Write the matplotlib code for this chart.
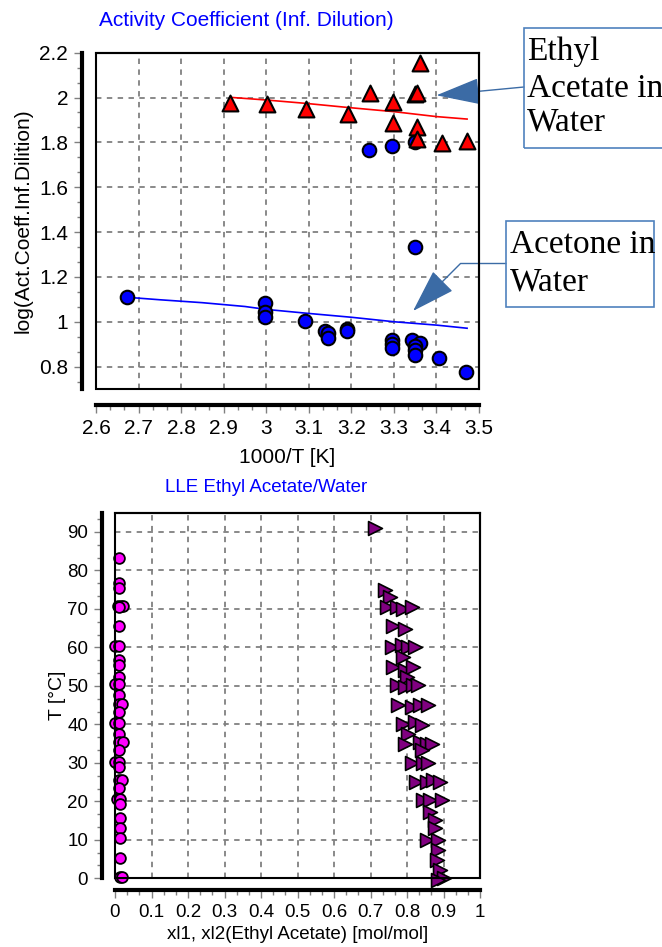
import numpy as np
import matplotlib
matplotlib.use("Agg")
import matplotlib.pyplot as plt
from matplotlib.ticker import MultipleLocator, AutoMinorLocator, FuncFormatter
from matplotlib.patches import Rectangle

plt.rcParams['font.family'] = ['Liberation Sans', 'DejaVu Sans']

# ---- top chart: activity coefficient at infinite dilution ----
acetone_x = [2.674, 2.998, 2.998, 2.998, 3.090, 3.139, 3.144, 3.144, 3.189, 3.190,
             3.295, 3.295, 3.295, 3.342, 3.361, 3.350, 3.350, 3.350, 3.350, 3.407,
             3.469, 3.241, 3.295, 3.350]
acetone_y = [1.109, 1.082, 1.045, 1.023, 1.005, 0.960, 0.948, 0.929, 0.969, 0.960,
             0.919, 0.899, 0.881, 0.919, 0.907, 0.892, 0.874, 0.852, 1.335, 0.840,
             0.777, 1.766, 1.784, 1.803]
ethyl_x = [2.915, 3.002, 3.093, 3.193, 3.244, 3.298, 3.298, 3.350, 3.354, 3.361,
           3.354, 3.354, 3.412, 3.472]
ethyl_y = [1.977, 1.970, 1.950, 1.928, 2.022, 1.978, 1.885, 2.016, 2.022, 2.152,
           1.867, 1.813, 1.799, 1.808]

acetone_fit_x = [2.674, 2.75, 2.85, 2.95, 3.0, 3.1, 3.2, 3.3, 3.4, 3.472]
acetone_fit_y = [1.109, 1.098, 1.085, 1.068, 1.055, 1.037, 1.020, 1.000, 0.985, 0.971]
ethyl_fit_x = [2.915, 3.0, 3.093, 3.19, 3.3, 3.4, 3.472]
ethyl_fit_y = [2.001, 1.989, 1.974, 1.956, 1.937, 1.915, 1.904]

# ---- bottom chart: LLE ethyl acetate / water ----
water_x = [0.011, 0.011, 0.011, 0.007, 0.016, 0.023, 0.011, 0.011, 0.000, 0.011,
           0.011, 0.011, 0.011, 0.000, 0.011, 0.011, 0.011, 0.020, 0.011, 0.000,
           0.011, 0.011, 0.011, 0.023, 0.011, 0.000, 0.011, 0.011, 0.011, 0.018,
           0.011, 0.005, 0.014, 0.014, 0.014, 0.014, 0.014, 0.014, 0.014, 0.020]
water_t = [83.1, 76.8, 75.5, 70.7, 70.7, 70.7, 70.4, 65.5, 60.3, 60.3,
           56.7, 55.4, 52.4, 50.4, 50.4, 47.6, 45.4, 45.3, 43.3, 40.4,
           40.4, 37.6, 35.5, 35.5, 33.3, 30.3, 30.3, 29.0, 25.5, 25.5,
           23.4, 20.6, 20.6, 19.3, 15.6, 13.2, 10.4, 5.4, 0.4, 0.3]
organic_x = [0.712, 0.740, 0.753, 0.744, 0.772, 0.790, 0.813, 0.763, 0.795, 0.758,
             0.785, 0.804, 0.822, 0.790, 0.763, 0.795, 0.817, 0.799, 0.772, 0.795,
             0.817, 0.831, 0.776, 0.813, 0.836, 0.858, 0.790, 0.822, 0.840, 0.804,
             0.795, 0.836, 0.854, 0.868, 0.840, 0.813, 0.845, 0.858, 0.826, 0.854,
             0.872, 0.890, 0.845, 0.863, 0.895, 0.863, 0.877, 0.877, 0.854, 0.886,
             0.886, 0.881, 0.890, 0.900, 0.886]
organic_t = [90.9, 75.0, 73.1, 70.5, 70.5, 70.1, 70.5, 65.5, 64.9, 60.1,
             60.6, 60.1, 60.1, 57.5, 55.0, 54.1, 55.0, 52.4, 50.2, 49.8,
             50.2, 50.2, 45.0, 44.6, 45.0, 45.0, 40.2, 40.7, 39.8, 37.6,
             35.0, 35.5, 35.0, 35.0, 33.3, 29.9, 29.9, 29.9, 25.1, 25.1,
             25.5, 25.1, 20.3, 20.3, 20.3, 17.3, 15.1, 13.0, 10.0, 10.0,
             7.4, 4.8, 2.2, 0.0, -0.4]

W, H = 662, 947
fig = plt.figure(figsize=(W / 100, H / 100), dpi=100)


def px_box(l, t, r, b):
    return [l / W, 1 - b / H, (r - l) / W, (b - t) / H]


def style_axes(ax, left_out, bottom_out, fs):
    for side in ['top', 'right']:
        ax.spines[side].set_linewidth(1.5)
    ax.spines['left'].set_position(('outward', left_out))
    ax.spines['bottom'].set_position(('outward', bottom_out))
    ax.spines['left'].set_linewidth(3)
    ax.spines['bottom'].set_linewidth(3)
    # inner frame edges
    ax.add_patch(Rectangle((0, 0), 1, 1, transform=ax.transAxes, fill=False,
                           lw=1.5, ec='black', clip_on=False, zorder=5))
    ax.xaxis.set_minor_locator(AutoMinorLocator(3))
    ax.yaxis.set_minor_locator(AutoMinorLocator(3))
    ax.tick_params(which='major', direction='out', length=6, width=1,
                   color='#808080', labelsize=fs, pad=4)
    ax.tick_params(which='minor', direction='out', length=3.5, width=1,
                   color='#808080')
    fmt = FuncFormatter(lambda v, p: '%g' % round(v, 6))
    ax.xaxis.set_major_formatter(fmt)
    ax.yaxis.set_major_formatter(fmt)
    ax.grid(True, which='major', color='#808080', ls=(0, (3, 3)), lw=1.3)
    ax.set_axisbelow(True)


# top chart
ax1 = fig.add_axes(px_box(96, 52.7, 479, 389))
ax1.plot(acetone_fit_x, acetone_fit_y, color='#0000FF', lw=1.2, zorder=3)
ax1.plot(ethyl_fit_x, ethyl_fit_y, color='#FF0000', lw=1.2, zorder=3)
ax1.scatter(acetone_x, acetone_y, s=95, c='#0000FF', edgecolors='black', linewidths=1.5,
            zorder=4, clip_on=False)
ax1.scatter(ethyl_x, ethyl_y, s=130, marker='^', c='#FF0000', edgecolors='black',
            linewidths=1.5, zorder=4, clip_on=False)
ax1.set_xlim(2.6, 3.5)
ax1.set_ylim(0.7, 2.2)
ax1.xaxis.set_major_locator(MultipleLocator(0.1))
ax1.yaxis.set_major_locator(MultipleLocator(0.2))
style_axes(ax1, 10, 11.5, 15)
ax1.set_xlabel('1000/T [K]', fontsize=15, labelpad=7)
ax1.set_ylabel('log(Act.Coeff.Inf.Dilition)', fontsize=15, labelpad=5)
fig.text(246 / W, 1 - 20 / H, 'Activity Coefficient (Inf. Dilution)', color='#0000FF',
         fontsize=15, ha='center', va='center')

# annotation boxes
box_ec = '#4F81BD'
arrow_c = '#3B6BA5'
fig.patches.append(Rectangle((524 / W, 1 - 148 / H), 150 / W, 120 / H, transform=fig.transFigure,
                             fill=False, ec=box_ec, lw=1.2))
fig.patches.append(Rectangle((506 / W, 1 - 307 / H), 148 / W, 86 / H, transform=fig.transFigure,
                             fill=False, ec=box_ec, lw=1.2))
serif = ['Liberation Serif', 'DejaVu Serif']
for txt, y in [('Ethyl', 52), ('Acetate in', 89), ('Water', 122)]:
    fig.text(527 / W, 1 - y / H, txt, family=serif, fontsize=24, ha='left', va='center')
for txt, y in [('Acetone in', 245), ('Water', 282)]:
    fig.text(510 / W, 1 - y / H, txt, family=serif, fontsize=24, ha='left', va='center')

ax1.annotate('', xy=(3.40, 2.01), xycoords='data',
             xytext=(524 / W, 1 - 87 / H), textcoords='figure fraction',
             arrowprops=dict(arrowstyle='-|>,head_length=2.8,head_width=0.85', mutation_scale=10,
                             fc=arrow_c, ec=arrow_c, lw=1, shrinkA=0, shrinkB=0),
             annotation_clip=False)
ax1.annotate('', xy=(3.345, 1.048), xycoords='data',
             xytext=(506 / W, 1 - 263.5 / H), textcoords='figure fraction',
             arrowprops=dict(arrowstyle='-|>,head_length=2.8,head_width=0.9', mutation_scale=10,
                             connectionstyle='angle,angleA=180,angleB=45,rad=0',
                             fc=arrow_c, ec=arrow_c, lw=1, shrinkA=0, shrinkB=0),
             annotation_clip=False)

# bottom chart
ax2 = fig.add_axes(px_box(115, 512.7, 480, 878.3))
ax2.scatter(water_x, water_t, s=60, c='#FF00FF', edgecolors='black', linewidths=1.3,
            zorder=4, clip_on=False)
ax2.scatter(organic_x, organic_t, s=100, marker='>', c='#800080', edgecolors='black',
            linewidths=1.2, zorder=4, clip_on=False)
ax2.set_xlim(0, 1)
ax2.set_ylim(0, 95)
ax2.xaxis.set_major_locator(MultipleLocator(0.1))
ax2.yaxis.set_major_locator(MultipleLocator(10))
style_axes(ax2, 9.4, 8.4, 13.5)
ax2.set_xlabel('xl1, xl2(Ethyl Acetate) [mol/mol]', fontsize=13.5, labelpad=4)
ax2.set_ylabel('T [°C]', fontsize=14, labelpad=1)
fig.text(266 / W, 1 - 487 / H, 'LLE Ethyl Acetate/Water', color='#0000FF',
         fontsize=13.5, ha='center', va='center')

fig.savefig('out.png', dpi=100)
